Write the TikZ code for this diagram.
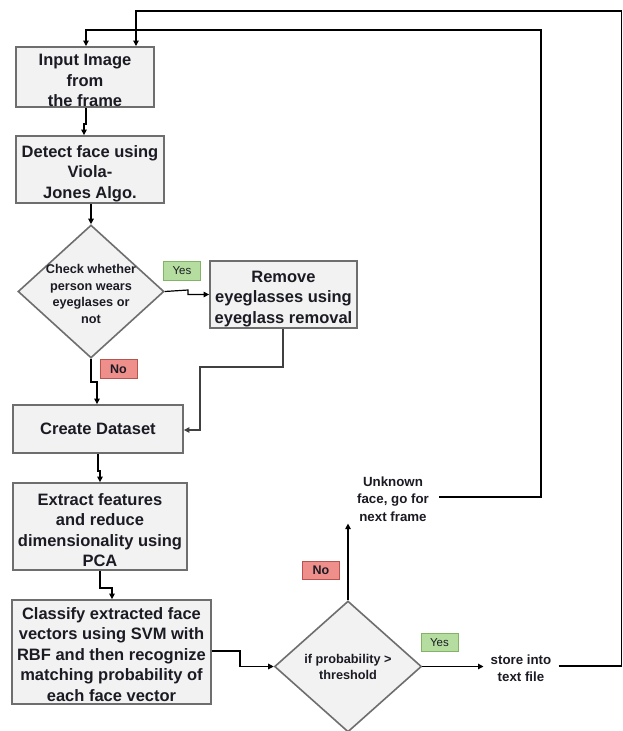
\documentclass[tikz,border=0pt]{standalone}
\usepackage{fontspec}
\setmainfont{Liberation Sans}
\usetikzlibrary{shapes.geometric,arrows.meta}
\definecolor{boxfill}{HTML}{F2F2F2}
\definecolor{boxline}{HTML}{6E6E6E}
\definecolor{txt}{HTML}{1B1B24}
\definecolor{yesfill}{HTML}{B5DDA0}
\definecolor{yesline}{HTML}{82B366}
\definecolor{nofill}{HTML}{EE8F8C}
\definecolor{noline}{HTML}{B85450}
\newcommand\tdown{\rule{0pt}{19pt}}
\tikzset{
  procbox/.style={draw=boxline, fill=boxfill, line width=1.8pt, inner sep=0pt,
    align=center, text=txt, font=\bfseries\fontsize{16.5}{20.5}\selectfont},
  decbox/.style={diamond, draw=boxline, fill=boxfill, line width=1.6pt, inner sep=0pt},
  dectext/.style={align=center, text=txt, inner sep=0pt, font=\bfseries\fontsize{12.7}{16.7}\selectfont},
  plaintext/.style={align=center, text=txt, inner xsep=10pt, inner ysep=2pt, font=\bfseries\fontsize{13.3}{17.5}\selectfont},
  yeslabel/.style={draw=yesline, fill=yesfill, line width=0.8pt, minimum width=37pt, minimum height=18.5pt, inner sep=0pt, text=txt, font=\fontsize{11.5}{13}\selectfont},
  nolabel/.style={draw=noline, fill=nofill, line width=0.8pt, minimum width=37pt, minimum height=18.5pt, inner sep=0pt, text=txt, font=\bfseries\fontsize{12.5}{14}\selectfont},
  conn/.style={line width=1.2pt, draw=black},
  arr/.style={conn, -{Triangle[length=5.5pt,width=5.5pt]}},
  grayconn/.style={line width=1.2pt, draw=black!75, -{Triangle[length=5.5pt,width=5.5pt]}}
}
\begin{document}
\begin{tikzpicture}[x=1pt,y=-1pt]
\useasboundingbox (0,0) rectangle (623,731);
\fill[white] (0,0) rectangle (623,731);

% process boxes
\node[procbox, minimum width=138pt, minimum height=58pt] (in) at (85,77) {\tdown Input Image\\from\\the frame};
\node[procbox, minimum width=148pt, minimum height=67pt] (det) at (90,169.5) {\rule{0pt}{20pt}Detect face using\\Viola-\\Jones Algo.};
\node[decbox, minimum width=146pt, minimum height=133pt] (d1) at (91,291.5) {};
\node[dectext] (d1t) at (91,294) {Check whether\\person wears\\eyeglases or\\not};
\node[procbox, minimum width=147pt, minimum height=67pt] (rem) at (283.5,294.5) {\rule{0pt}{20pt}Remove\\eyeglasses using\\eyeglass removal};
\node[procbox, minimum width=170pt, minimum height=48pt] (cd) at (98,429) {Create Dataset};
\node[procbox, minimum width=174pt, minimum height=87pt] (ext) at (100,526.5) {\tdown Extract features\\and reduce\\dimensionality using\\PCA};
\node[procbox, minimum width=199pt, minimum height=104pt] (cls) at (111.5,652) {\rule{0pt}{17pt}Classify extracted face\\vectors using SVM with\\RBF and then recognize\\matching probability of\\each face vector};
\node[decbox, minimum width=147pt, minimum height=131pt] (d2) at (348,666.5) {};
\node[dectext] (d2t) at (348,667) {if probability >\\threshold};
\node[plaintext] (unk) at (393,499) {Unknown\\face, go for\\next frame};
\node[plaintext, inner xsep=7pt] (store) at (521,668) {store into\\text file};

% labels
\node[yeslabel] (y1) at (182,271) {Yes};
\node[nolabel] (n1) at (118.5,369) {No};
\node[nolabel] (n2) at (321,570.5) {No};
\node[yeslabel] (y2) at (439.5,642.5) {Yes};

% connectors
\draw[arr] (in.south -| 86,0) -- (86,124) -- (84,124) -- (84,0 |- det.north);
\draw[arr] (d1.north |- det.south) -- (d1.north);
\draw[arr] (d1.east) -- (188,290) -- (188,294.5) -- (rem.west);
\draw[arr] (d1.south) -- (91,382) -- (97,382) -- (97,0 |- cd.north);
\draw[grayconn] (283,0 |- rem.south) -- (283,367) -- (200,367) -- (200,430) -- (cd.east |- 0,430);
\draw[arr] (98,0 |- cd.south) -- (98,471) -- (100,471) -- (100,0 |- ext.north);
\draw[arr] (100,0 |- ext.south) -- (100,588) -- (112,588) -- (112,0 |- cls.north);
\draw[arr] (cls.east |- 0,651) -- (240,651) -- (240,666.5) -- (d2.west);
\draw[arr] (d2.north) -- (d2.north |- unk.south);
\draw[arr] (d2.east) -- (store.west |- d2.east);
\draw[arr] (unk.east |- 0,497) -- (541,497) -- (541,30) -- (86,30) -- (86,0 |- in.north);
\draw[arr] (store.east |- 0,666) -- (621.5,666) -- (621.5,11) -- (136,11) -- (136,0 |- in.north);
\end{tikzpicture}
\end{document}
